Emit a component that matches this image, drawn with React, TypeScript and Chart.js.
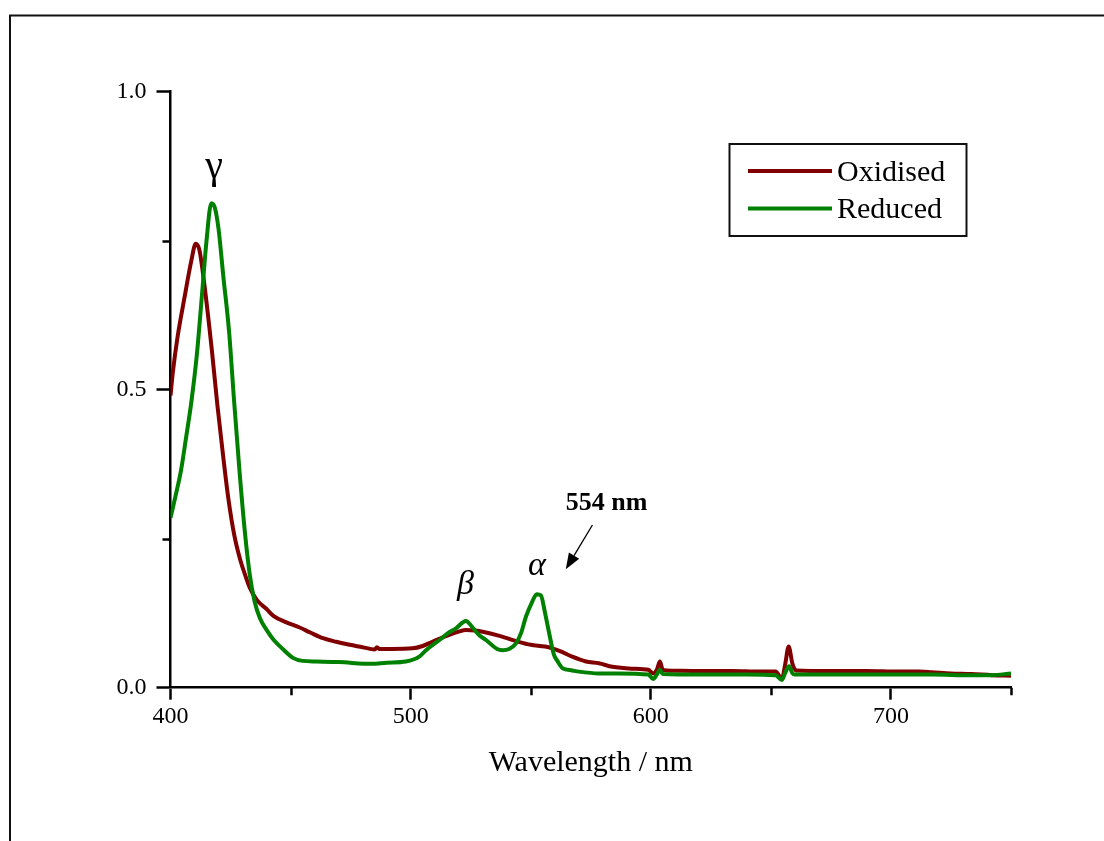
import React, { useEffect, useRef } from 'react';
import { Chart, registerables } from 'chart.js';

Chart.register(...registerables);

// Absorption spectra (wavelength in nm, absorbance)
const oxidisedWavelength = [
  400, 401, 403, 405.8, 408.7, 410.5, 412, 414, 417.2, 419.5, 421.6, 424, 426.6, 429, 431, 433, 436, 440,
  443, 448, 453.8, 458, 463.5, 469, 474.6, 480, 485, 486, 487, 492, 500.8, 505, 509, 515, 520, 523, 527,
  530, 537, 545, 550, 556, 559, 563, 567.3, 573, 578.4, 584, 592, 599, 601, 602.5, 603.8, 605, 609, 620,
  634, 645, 652, 654.6, 656, 657.4, 659, 660.5, 675, 690, 703, 712, 717, 725, 733.5, 742, 750,
];
const oxidisedAbsorbance = [
  0.49, 0.53, 0.59, 0.654, 0.717, 0.745, 0.735, 0.68, 0.567, 0.475, 0.4, 0.32, 0.255, 0.215, 0.19, 0.168,
  0.147, 0.132, 0.12, 0.11, 0.101, 0.093, 0.083, 0.077, 0.072, 0.068, 0.064, 0.068, 0.065, 0.065, 0.066,
  0.07, 0.077, 0.087, 0.094, 0.097, 0.096, 0.094, 0.087, 0.077, 0.072, 0.069, 0.066, 0.06, 0.052, 0.044,
  0.041, 0.035, 0.032, 0.03, 0.024, 0.03, 0.044, 0.03, 0.0285, 0.028, 0.028, 0.027, 0.027, 0.015, 0.04,
  0.069, 0.04, 0.029, 0.028, 0.028, 0.027, 0.027, 0.026, 0.024, 0.023, 0.021, 0.02,
];

const reducedWavelength = [
  400, 402, 404.4, 406.5, 408.7, 411, 413, 415, 417, 418.5, 420, 422, 424.4, 426.5, 428.7, 431, 433, 435,
  437.3, 440, 443, 447, 451, 455, 460.7, 470, 484, 490, 498, 503.6, 506.4, 512, 515, 519, 523, 526, 528.6,
  531.4, 536, 538.3, 541, 543.8, 546, 548, 550.7, 552.5, 554.2, 556, 557.7, 559.7, 561.1, 563.2, 567.3,
  570, 578.4, 586.7, 599, 601, 602.5, 603.8, 605, 620, 640, 652, 654.6, 656, 657.6, 659, 660, 680, 700,
  717, 733.5, 742, 750,
];
const reducedAbsorbance = [
  0.285, 0.32, 0.365, 0.42, 0.48, 0.56, 0.654, 0.75, 0.813, 0.805, 0.77, 0.69, 0.597, 0.48, 0.365, 0.26,
  0.19, 0.145, 0.116, 0.097, 0.08, 0.064, 0.05, 0.045, 0.044, 0.043, 0.04, 0.042, 0.044, 0.052, 0.063,
  0.08, 0.09, 0.1, 0.112, 0.1, 0.088, 0.08, 0.065, 0.063, 0.065, 0.074, 0.092, 0.119, 0.145, 0.157, 0.155,
  0.125, 0.091, 0.055, 0.045, 0.033, 0.029, 0.027, 0.024, 0.024, 0.022, 0.0145, 0.022, 0.03, 0.023, 0.022,
  0.022, 0.021, 0.013, 0.025, 0.036, 0.024, 0.022, 0.022, 0.022, 0.022, 0.021, 0.021, 0.024,
];

const seriesNames = ['Oxidised', 'Reduced'];
const seriesColors = ['#800000', '#008000'];

const xTickLabels = ['400', '500', '600', '700'];
const yTickLabels = ['0.0', '0.5', '1.0'];

// Band labels placed in data coordinates
const bandLabels = [
  { text: '\u03B3', wavelength: 418.1, absorbance: 0.855, italic: false, size: 40 },
  { text: '\u03B2', wavelength: 522.8, absorbance: 0.158, italic: true, size: 34 },
  { text: '\u03B1', wavelength: 552.6, absorbance: 0.189, italic: true, size: 34 },
];
const peakNote = { text: '554 nm', wavelength: 564.6, absorbance: 0.298 };
const peakArrow = { from: [575.7, 0.273], to: [564.6, 0.1987] };

const SERIF = '"Liberation Serif", "Times New Roman", serif';

const xLabelFor = (v: number) => xTickLabels.find((l) => Number(l) === v) ?? '';
const yLabelFor = (v: number) => yTickLabels.find((l) => Math.abs(Number(l) - v) < 1e-9) ?? '';

const decorPlugin = {
  id: 'spectrumDecor',
  afterDraw(chart: any) {
    const { ctx, chartArea } = chart;
    const xs = chart.scales.x;
    const ys = chart.scales.y;
    ctx.save();

    // minor ticks
    ctx.strokeStyle = '#000';
    ctx.lineWidth = 2.5;
    ctx.beginPath();
    xs.ticks.forEach((t: any) => {
      if (xLabelFor(t.value) === '') {
        const px = Math.round(xs.getPixelForValue(t.value)) + 0.5;
        ctx.moveTo(px, chartArea.bottom);
        ctx.lineTo(px, chartArea.bottom + 7.5);
      }
    });
    ys.ticks.forEach((t: any) => {
      if (yLabelFor(t.value) === '') {
        const py = Math.round(ys.getPixelForValue(t.value)) + 0.5;
        ctx.moveTo(chartArea.left, py);
        ctx.lineTo(chartArea.left - 8, py);
      }
    });
    ctx.stroke();

    // band labels
    ctx.fillStyle = '#000';
    ctx.textBaseline = 'alphabetic';
    ctx.textAlign = 'center';
    bandLabels.forEach((b) => {
      ctx.font = `${b.italic ? 'italic ' : ''}${b.size}px ${SERIF}`;
      ctx.fillText(b.text, xs.getPixelForValue(b.wavelength), ys.getPixelForValue(b.absorbance));
    });

    // 554 nm note with arrow
    ctx.font = `bold 26px ${SERIF}`;
    ctx.textAlign = 'left';
    ctx.fillText(peakNote.text, xs.getPixelForValue(peakNote.wavelength), ys.getPixelForValue(peakNote.absorbance));
    const x1 = xs.getPixelForValue(peakArrow.from[0]);
    const y1 = ys.getPixelForValue(peakArrow.from[1]);
    const x2 = xs.getPixelForValue(peakArrow.to[0]);
    const y2 = ys.getPixelForValue(peakArrow.to[1]);
    const ang = Math.atan2(y2 - y1, x2 - x1);
    const headLen = 16;
    const headHalf = 6;
    const bx = x2 - headLen * Math.cos(ang);
    const by = y2 - headLen * Math.sin(ang);
    ctx.lineWidth = 1.3;
    ctx.beginPath();
    ctx.moveTo(x1, y1);
    ctx.lineTo(bx, by);
    ctx.stroke();
    ctx.beginPath();
    ctx.moveTo(x2, y2);
    ctx.lineTo(bx + headHalf * Math.sin(ang), by - headHalf * Math.cos(ang));
    ctx.lineTo(bx - headHalf * Math.sin(ang), by + headHalf * Math.cos(ang));
    ctx.closePath();
    ctx.fill();

    // legend box
    const lx = 729.5;
    const ly = 144;
    const lw = 237;
    const lh = 92;
    ctx.lineWidth = 2;
    ctx.strokeStyle = '#111';
    ctx.strokeRect(lx, ly, lw, lh);
    ctx.font = `30px ${SERIF}`;
    ctx.textAlign = 'left';
    chart.data.datasets.forEach((ds: any, i: number) => {
      const rowY = 171 + i * 37.5;
      ctx.strokeStyle = ds.borderColor;
      ctx.lineWidth = 4;
      ctx.beginPath();
      ctx.moveTo(748, rowY);
      ctx.lineTo(832, rowY);
      ctx.stroke();
      ctx.fillStyle = '#000';
      ctx.fillText(ds.label, 837, rowY + 9.5);
    });

    // outer frame (top and left edges)
    ctx.strokeStyle = '#111';
    ctx.lineWidth = 2;
    ctx.beginPath();
    ctx.moveTo(9, 15.5);
    ctx.lineTo(1104, 15.5);
    ctx.moveTo(10, 14.5);
    ctx.lineTo(10, 841);
    ctx.stroke();

    ctx.restore();
  },
};

export default function App() {
  const canvasRef = useRef<HTMLCanvasElement | null>(null);

  useEffect(() => {
    if (!canvasRef.current) return;
    const toPoints = (xs: number[], ys: number[]) => xs.map((x, i) => ({ x, y: ys[i] }));
    const chart = new Chart(canvasRef.current, {
      type: 'line',
      data: {
        datasets: [
          {
            label: seriesNames[0],
            data: toPoints(oxidisedWavelength, oxidisedAbsorbance),
            borderColor: seriesColors[0],
            backgroundColor: seriesColors[0],
            borderWidth: 4,
            pointRadius: 0,
            cubicInterpolationMode: 'monotone',
            order: 2,
          },
          {
            label: seriesNames[1],
            data: toPoints(reducedWavelength, reducedAbsorbance),
            borderColor: seriesColors[1],
            backgroundColor: seriesColors[1],
            borderWidth: 4,
            pointRadius: 0,
            cubicInterpolationMode: 'monotone',
            order: 1,
          },
        ],
      },
      options: {
        animation: false,
        responsive: false,
        devicePixelRatio: 1,
        layout: { padding: { top: 91.7, right: 93, left: 0, bottom: 0 } },
        plugins: { legend: { display: false }, tooltip: { enabled: false } },
        scales: {
          x: {
            type: 'linear',
            min: 400,
            max: 750,
            afterFit: (scale: any) => {
              scale.height = 841 - 687.7;
            },
            border: { display: true, color: '#000', width: 2.5 },
            grid: {
              display: true,
              drawOnChartArea: false,
              drawTicks: true,
              tickLength: 12,
              tickWidth: 2.5,
              tickColor: (c: any) => (c.tick && xLabelFor(c.tick.value) !== '' ? '#000' : 'rgba(0,0,0,0)'),
            },
            ticks: {
              stepSize: 50,
              autoSkip: false,
              maxRotation: 0,
              padding: 3,
              color: '#000',
              font: { family: SERIF, size: 24 },
              callback: (v: any) => xLabelFor(Number(v)),
            },
            title: {
              display: true,
              text: 'Wavelength / nm',
              color: '#000',
              font: { family: SERIF, size: 30 },
              padding: { top: 0, bottom: 60 },
            },
          },
          y: {
            type: 'linear',
            min: 0,
            max: 1,
            afterFit: (scale: any) => {
              scale.width = 170.5;
            },
            border: { display: true, color: '#000', width: 2.5 },
            grid: {
              display: true,
              drawOnChartArea: false,
              drawTicks: true,
              tickLength: 14,
              tickWidth: 2.5,
              tickColor: (c: any) => (c.tick && yLabelFor(c.tick.value) !== '' ? '#000' : 'rgba(0,0,0,0)'),
            },
            ticks: {
              stepSize: 0.25,
              autoSkip: false,
              padding: 10,
              color: '#000',
              font: { family: SERIF, size: 24 },
              callback: (v: any) => yLabelFor(Number(v)),
            },
          },
        },
      },
      plugins: [decorPlugin],
    });
    return () => chart.destroy();
  }, []);

  return (
    <div style={{ position: 'absolute', left: 0, top: 0, width: 1104, height: 841, background: '#fff' }}>
      <canvas ref={canvasRef} width={1104} height={841} style={{ display: 'block' }} />
    </div>
  );
}
